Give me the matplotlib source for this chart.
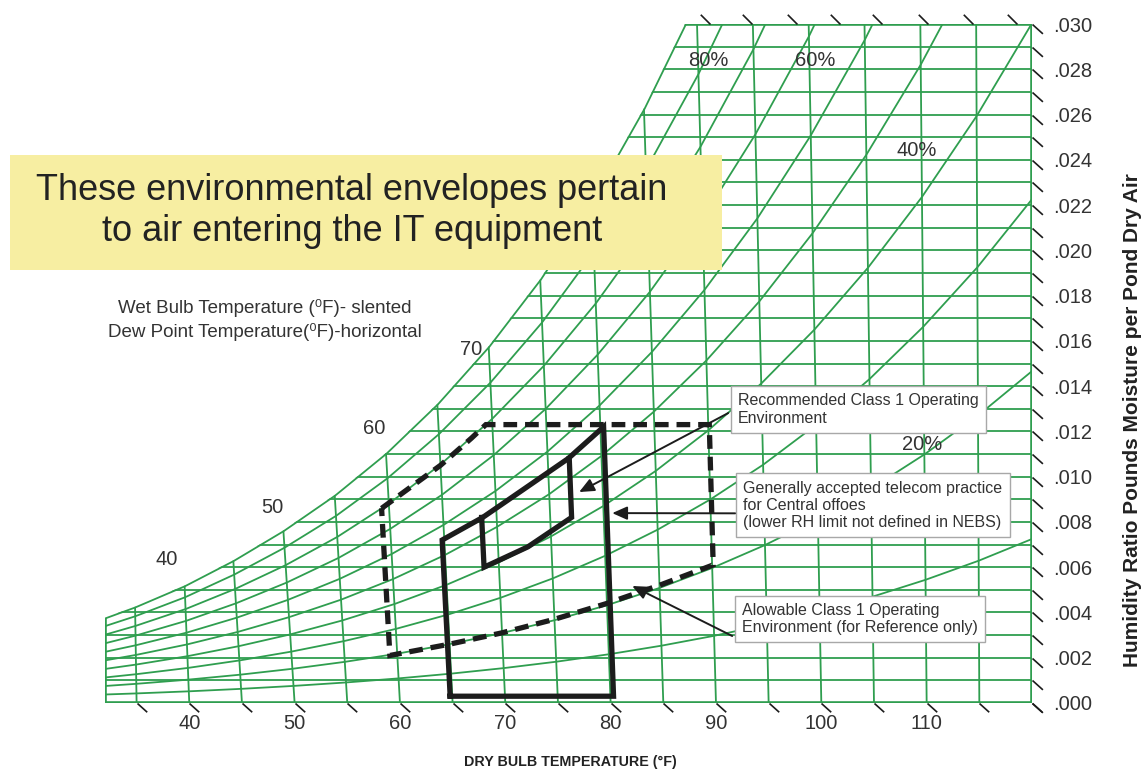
import numpy as np
import matplotlib
matplotlib.use("Agg")
import matplotlib.pyplot as plt
from matplotlib.patches import Polygon, Rectangle
from matplotlib.path import Path

plt.rcParams['font.family'] = ['Liberation Sans', 'DejaVu Sans']

# saturation pressure of water (psia) from steam tables, used to lay out the chart grid
sat_temp = [32, 35, 40, 45, 50, 55, 60, 65, 70, 75, 80, 85, 90, 95, 100, 105, 110, 115, 120]
sat_pws = [0.08865, 0.09998, 0.12173, 0.14757, 0.17811, 0.21414, 0.25647, 0.30592, 0.36328,
           0.42967, 0.50692, 0.59583, 0.69816, 0.81515, 0.94915, 1.10167, 1.27478, 1.47034, 1.69241]
rh_levels = [10, 20, 30, 40, 50, 60, 70, 80, 90]
db_grid = [35, 40, 45, 50, 55, 60, 65, 70, 75, 80, 85, 90, 95, 100, 105, 110, 115]
w_grid = [i / 1000 for i in range(1, 31)]

# axis ticks / labels
db_ticks = [35, 40, 45, 50, 55, 60, 65, 70, 75, 80, 85, 90, 95, 100, 105, 110, 115, 120]
db_labels = [40, 50, 60, 70, 80, 90, 100, 110]
w_ticks = [i / 1000 for i in range(0, 31)]
w_labels = [i / 1000 for i in range(0, 31, 2)]
top_ticks = [89.45, 93.44, 97.71, 101.8, 105.8, 110.1, 114.4, 118.6]

# envelopes (dry bulb F, humidity ratio)
allow_t = [59.3, 62.0, 65.0, 68.0, 69.4, 90.1, 90.1, 85.0, 80.0, 75.0, 70.0, 65.0, 59.3]
allow_w = [0.0086, 0.0095, 0.0105, 0.0117, 0.0123, 0.0123, 0.0061, 0.0052, 0.0044, 0.0037, 0.0031, 0.0026, 0.0021]
telecom_t = [64.8, 80.3, 80.3, 76.9, 72.5, 68.7, 64.8]
telecom_w = [0.0003, 0.0003, 0.0122, 0.0108, 0.0094, 0.0082, 0.0072]
recom_t = [68.6, 68.6, 72.8, 77.0, 77.0]
recom_w = [0.0082, 0.0060, 0.0069, 0.0082, 0.0108]

# chart annotations
wb_labels = ['40', '50', '60', '70']
wb_x = [37.9, 47.9, 57.6, 66.8]
wb_y = [0.00632, 0.00862, 0.01215, 0.01560]
rh_labels = ['80%', '60%', '40%', '20%']
rh_x = [89.3, 99.4, 109.1, 109.6]
rh_y = [0.02837, 0.02837, 0.02439, 0.01144]

notes = ['Recommended Class 1 Operating\nEnvironment',
         'Generally accepted telecom practice\nfor Central offoes\n(lower RH limit not defined in NEBS)',
         'Alowable Class 1 Operating\nEnvironment (for Reference only)']
note_x = [92.1, 92.6, 92.5]
note_y = [0.01297, 0.00873, 0.00371]
arrow_tail_x = [91.16, 91.83, 91.54]
arrow_tail_y = [0.01281, 0.00838, 0.00296]
arrow_tip_x = [77.01, 80.15, 82.05]
arrow_tip_y = [0.00932, 0.00839, 0.00517]

P_ATM = 14.696
T_MIN, T_MAX, W_MAX = 32, 120, 0.030
LEAN = 2.0
GREEN = '#2f9e4f'
INK = '#1c1c1c'
TXT = '#333333'


def hum_ratio(pw):
    pw = np.asarray(pw, float)
    return 0.622 * pw / (P_ATM - pw)


def to_plot(t, w):
    # dry bulb lines lean a little, less so near the left border
    t = np.asarray(t, float)
    w = np.asarray(w, float)
    ramp = np.clip((t - T_MIN) / 15.0, 0, 1)
    return t + LEAN * (t - T_MAX) * w * ramp


def closed(vals):
    return list(vals) + [vals[0]]


fig = plt.figure(figsize=(11.46, 7.69), dpi=100)
ax = fig.add_axes([105 / 1146, 66 / 769, 927 / 1146, 679 / 769])
ax.set_xlim(T_MIN, T_MAX)
ax.set_ylim(0, W_MAX)
for s in ax.spines.values():
    s.set_visible(False)

sat_t = np.array(sat_temp, float)
sat_w = hum_ratio(sat_pws)
sat_x = to_plot(sat_t, sat_w)
sat_x[0] = T_MIN

keep = sat_w <= 0.0315
verts = [(T_MIN, 0), (T_MAX, 0), (T_MAX, sat_w[keep][-1])]
verts += list(zip(sat_x[keep][::-1], sat_w[keep][::-1]))
region = Polygon(verts, closed=True, transform=ax.transData, facecolor='none', edgecolor='none')
ax.add_patch(region)

lw = 1.3


def grid_line(x, y, width=lw):
    ln, = ax.plot(x, y, color=GREEN, lw=width, zorder=1, solid_capstyle='butt')
    ln.set_clip_path(region)


for w in w_grid:
    grid_line([T_MIN, T_MAX], [w, w])
for t in db_grid:
    ws = sat_w[sat_temp.index(t)]
    grid_line([to_plot(t, 0), to_plot(t, ws)], [0, ws])
for rh in rh_levels:
    w_rh = hum_ratio(np.array(sat_pws) * rh / 100)
    grid_line(to_plot(sat_t, w_rh), w_rh)

# borders (double width, the clip keeps the inner half)
grid_line(sat_x, sat_w, 2 * lw)
grid_line([T_MIN, T_MAX], [0, 0], 2 * lw)
grid_line([T_MAX, T_MAX], [0, 0.0312], 2 * lw)
grid_line([T_MIN, T_MAX], [W_MAX, W_MAX], 2 * lw)
grid_line([T_MIN, T_MIN], [0, sat_w[0]], 2 * lw)

# slanted tick marks
down_tick = Path([(0, 0), (1, -0.9)])
up_tick = Path([(0, 0), (-1, 1)])
ax.plot(db_ticks, [0] * len(db_ticks), ls='none', marker=down_tick, ms=14, mec=INK, mfc='none',
        mew=1.2, clip_on=False)
ax.plot([T_MAX] * len(w_ticks), w_ticks, ls='none', marker=down_tick, ms=15, mec=INK, mfc='none',
        mew=1.2, clip_on=False)
ax.plot(top_ticks, [W_MAX] * len(top_ticks), ls='none', marker=up_tick, ms=14, mec=INK, mfc='none',
        mew=1.2, clip_on=False)

# envelopes
ax.plot(to_plot(closed(allow_t), closed(allow_w)), closed(allow_w), color=INK, lw=3.8,
        ls=(0, (2.6, 1.5)), zorder=3, dash_joinstyle='miter')
ax.plot(to_plot(closed(telecom_t), closed(telecom_w)), closed(telecom_w),
        color=INK, lw=3.8, zorder=3, solid_joinstyle='miter')
ax.plot(to_plot(recom_t, recom_w), recom_w, color=INK, lw=3.8, zorder=3, solid_joinstyle='miter')

# arrows and note boxes
for i in range(len(notes)):
    ax.annotate('', xy=(arrow_tip_x[i], arrow_tip_y[i]), xytext=(arrow_tail_x[i], arrow_tail_y[i]),
                arrowprops=dict(arrowstyle='-|>,head_length=0.9,head_width=0.4', color=INK, lw=1.4,
                                shrinkA=0, shrinkB=0, mutation_scale=10),
                zorder=4, annotation_clip=False)
    ax.text(note_x[i], note_y[i], notes[i], ha='left', va='center', fontsize=11.5, color=TXT,
            linespacing=1.2, zorder=6,
            bbox=dict(boxstyle='square,pad=0.45', facecolor='white', edgecolor='#a8a8a8', linewidth=1.0))

for lab, x, y in zip(wb_labels, wb_x, wb_y):
    ax.text(x, y, lab, ha='center', va='center', fontsize=14.5, color=TXT)
for lab, x, y in zip(rh_labels, rh_x, rh_y):
    ax.text(x, y, lab, ha='center', va='center', fontsize=14.5, color=TXT, zorder=5)

ax.set_xticks(db_labels)
ax.set_xticklabels([str(v) for v in db_labels], fontsize=14.5, color=TXT)
ax.yaxis.tick_right()
ax.set_yticks(w_labels)
ax.set_yticklabels([('%.3f' % v)[1:] for v in w_labels], fontsize=14.5, color=TXT)
ax.tick_params(axis='x', length=0, pad=8)
ax.tick_params(axis='y', length=0, pad=15)

fig.text(1133 / 1146, 1 - 420 / 769, 'Humidity Ratio Pounds Moisture per Pond Dry Air', rotation=90,
         ha='center', va='center', fontsize=15, fontweight='bold', color='#222222')
fig.text(570 / 1146, 1 - 762 / 769, 'DRY BULB TEMPERATURE (°F)', ha='center', va='center',
         fontsize=10.3, fontweight='bold', color='#222222')
fig.text(265 / 1146, 1 - 320 / 769, 'Wet Bulb Temperature (\u2070F)- slented\nDew Point Temperature(\u2070F)-horizontal',
         ha='center', va='center', fontsize=13.5, color=TXT, linespacing=1.4)

# yellow banner
fig.patches.append(Rectangle((10 / 1146, 1 - 270 / 769), 712 / 1146, 115 / 769, transform=fig.transFigure,
                             facecolor='#f7eea2', edgecolor='none', zorder=5))
fig.text(352 / 1146, 1 - 211 / 769, 'These environmental envelopes pertain\nto air entering the IT equipment',
         ha='center', va='center', fontsize=26, color='#222222', linespacing=1.25, zorder=6)

fig.savefig('out.png', dpi=100)
